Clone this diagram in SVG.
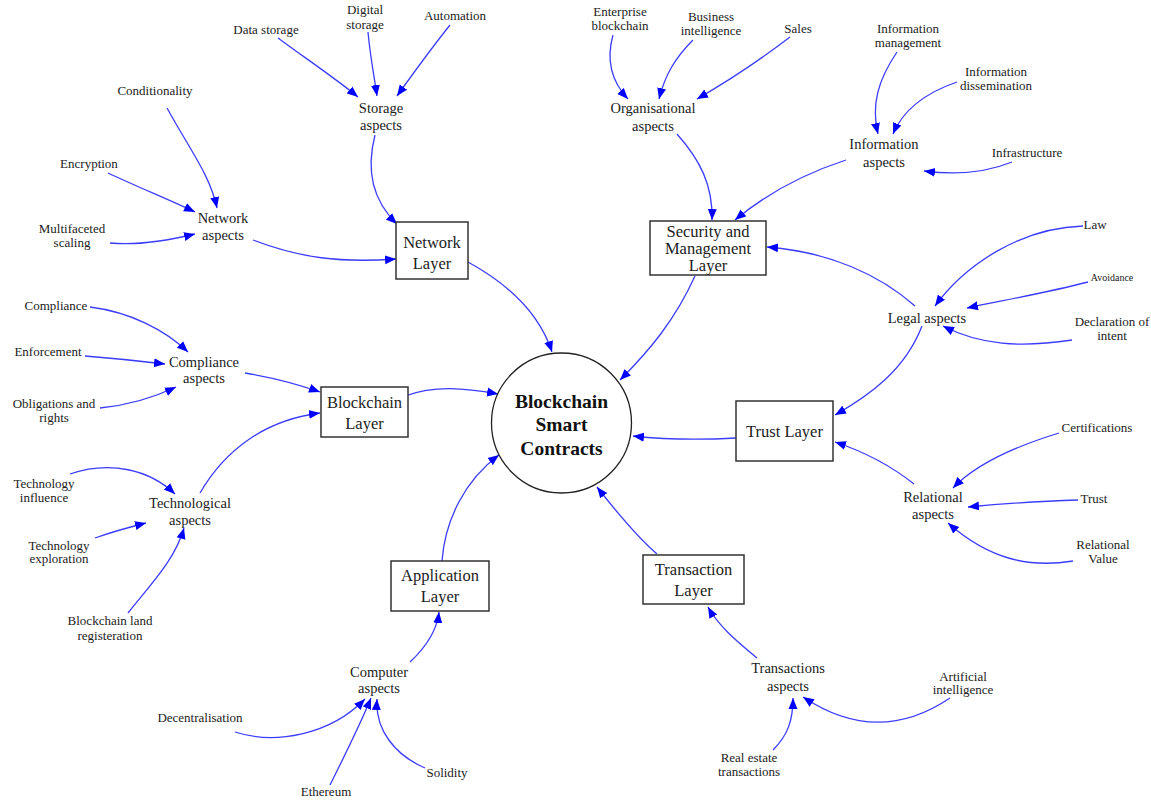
<svg xmlns="http://www.w3.org/2000/svg" width="1151" height="810" viewBox="0 0 1151 810">
<defs>
<marker id="ah" markerUnits="userSpaceOnUse" markerWidth="12" markerHeight="10" viewBox="0 0 12 10" refX="11" refY="5" orient="auto">
<path d="M0,0.5 L11,5 L0,9.5 z" fill="#0000ff"/>
</marker>
</defs>
<style>
text{fill:#222;text-anchor:middle}
.leaf{font-size:13px}
.asp{font-size:14.5px}
.lay{font-size:16.5px}
.ctr{font-size:19.5px;font-weight:bold;fill:#111}
.box{fill:#fff;stroke:#333;stroke-width:1.5}
#connectors path{fill:none;stroke:#3c3cff;stroke-width:1.3;marker-end:url(#ah)}
</style>
<rect width="1151" height="810" fill="#fff"/>
<g id="connectors">
<path d="M278,38 C305,58 335,78 358,97"/>
<path d="M368,32 C370,55 374,75 377,96"/>
<path d="M450,25 C430,50 412,75 397,96"/>
<path d="M375,135 C366,170 372,200 397,224"/>
<path d="M167,108 C190,150 210,175 217,208"/>
<path d="M108,173 C140,188 170,200 195,212"/>
<path d="M110,243 C140,246 170,240 195,234"/>
<path d="M253,240 C300,258 340,263 396,259"/>
<path d="M613,35 C606,60 612,82 628,99"/>
<path d="M693,40 C675,58 665,75 659,99"/>
<path d="M790,37 C760,60 730,80 697,99"/>
<path d="M677,134 C700,160 713,185 712,220"/>
<path d="M897,52 C878,80 871,105 878,134"/>
<path d="M957,82 C925,93 903,110 893,134"/>
<path d="M1012,162 C985,173 955,175 924,171"/>
<path d="M846,160 C800,175 765,195 735,220"/>
<path d="M1083,226 C1020,228 965,265 935,306"/>
<path d="M1088,282 C1050,292 1005,300 967,308"/>
<path d="M1072,340 C1020,348 980,345 943,326"/>
<path d="M915,306 C880,275 830,252 767,247"/>
<path d="M922,326 C905,370 870,395 835,415"/>
<path d="M736,438 C700,440 670,440 633,436"/>
<path d="M1059,433 C1010,448 975,465 953,488"/>
<path d="M1078,500 C1040,501 1000,504 968,507"/>
<path d="M1073,561 C1030,568 990,560 948,523"/>
<path d="M914,484 C890,465 865,452 835,442"/>
<path d="M90,307 C130,312 165,330 188,352"/>
<path d="M85,356 C110,358 140,361 165,364"/>
<path d="M100,408 C130,405 155,397 176,387"/>
<path d="M245,373 C275,378 300,385 320,392"/>
<path d="M70,474 C110,460 150,470 175,494"/>
<path d="M95,538 C112,532 130,527 146,523"/>
<path d="M128,613 C150,585 175,560 184,528"/>
<path d="M200,493 C225,450 265,420 320,413"/>
<path d="M405,396 C435,385 465,388 498,394"/>
<path d="M468,262 C510,285 540,315 552,352"/>
<path d="M695,276 C675,320 650,350 620,380"/>
<path d="M442,561 C445,520 465,480 499,455"/>
<path d="M657,554 C635,535 615,510 597,487"/>
<path d="M410,662 C425,648 437,630 439,612"/>
<path d="M235,732 C275,745 330,735 365,699"/>
<path d="M330,785 C345,755 360,725 371,698"/>
<path d="M425,768 C395,755 375,730 377,699"/>
<path d="M757,658 C735,640 718,625 708,607"/>
<path d="M773,750 C788,735 793,720 793,698"/>
<path d="M950,698 C910,725 860,735 803,697"/>
</g>
<g font-family="Liberation Serif, DejaVu Serif, serif">
<g id="center"><circle cx="561.5" cy="423" r="70" fill="#fff" stroke="#222" stroke-width="1.3"/>
<text class="ctr" x="561.5" y="408">Blockchain</text><text class="ctr" x="561.5" y="431">Smart</text><text class="ctr" x="561.5" y="455">Contracts</text></g>
<g id="network-layer"><rect class="box" x="396" y="222" width="72" height="57"/><text class="lay" x="432" y="248">Network</text><text class="lay" x="432" y="269">Layer</text></g>
<g id="security-layer"><rect class="box" x="650" y="221" width="116" height="54"/><text class="lay" x="708" y="237">Security and</text><text class="lay" x="708" y="254">Management</text><text class="lay" x="708" y="271">Layer</text></g>
<g id="blockchain-layer"><rect class="box" x="321" y="387" width="87" height="50"/><text class="lay" x="364.5" y="408">Blockchain</text><text class="lay" x="364.5" y="429">Layer</text></g>
<g id="trust-layer"><rect class="box" x="736" y="401" width="97" height="60"/><text class="lay" x="784.5" y="437">Trust Layer</text></g>
<g id="application-layer"><rect class="box" x="391" y="561" width="98" height="50"/><text class="lay" x="440" y="581">Application</text><text class="lay" x="440" y="602">Layer</text></g>
<g id="transaction-layer"><rect class="box" x="643" y="555" width="101" height="49"/><text class="lay" x="693.5" y="575">Transaction</text><text class="lay" x="693.5" y="596">Layer</text></g>
<g id="storage-aspects"><text class="asp" x="381" y="113">Storage</text><text class="asp" x="381" y="130">aspects</text></g>
<g id="network-aspects"><text class="asp" x="223" y="223">Network</text><text class="asp" x="223" y="240">aspects</text></g>
<g id="organisational-aspects"><text class="asp" x="653" y="113">Organisational</text><text class="asp" x="653" y="131">aspects</text></g>
<g id="information-aspects"><text class="asp" x="884" y="149">Information</text><text class="asp" x="884" y="167">aspects</text></g>
<g id="legal-aspects"><text class="asp" x="927" y="323">Legal aspects</text></g>
<g id="compliance-aspects"><text class="asp" x="204" y="367">Compliance</text><text class="asp" x="204" y="383">aspects</text></g>
<g id="technological-aspects"><text class="asp" x="190" y="508">Technological</text><text class="asp" x="190" y="525">aspects</text></g>
<g id="relational-aspects"><text class="asp" x="933" y="502">Relational</text><text class="asp" x="933" y="519">aspects</text></g>
<g id="computer-aspects"><text class="asp" x="379" y="677">Computer</text><text class="asp" x="379" y="693">aspects</text></g>
<g id="transactions-aspects"><text class="asp" x="788" y="673">Transactions</text><text class="asp" x="788" y="691">aspects</text></g>
<g id="data-storage"><text class="leaf" x="266" y="34">Data storage</text></g>
<g id="digital-storage"><text class="leaf" x="365" y="14">Digital</text><text class="leaf" x="365" y="29">storage</text></g>
<g id="automation"><text class="leaf" x="455" y="20">Automation</text></g>
<g id="conditionality"><text class="leaf" x="155" y="95">Conditionality</text></g>
<g id="encryption"><text class="leaf" x="89" y="168">Encryption</text></g>
<g id="multifaceted-scaling"><text class="leaf" x="72" y="233">Multifaceted</text><text class="leaf" x="72" y="247">scaling</text></g>
<g id="enterprise-blockchain"><text class="leaf" x="620" y="16">Enterprise</text><text class="leaf" x="620" y="30">blockchain</text></g>
<g id="business-intelligence"><text class="leaf" x="711" y="21">Business</text><text class="leaf" x="711" y="35">intelligence</text></g>
<g id="sales"><text class="leaf" x="798" y="33">Sales</text></g>
<g id="information-management"><text class="leaf" x="908" y="33">Information</text><text class="leaf" x="908" y="47">management</text></g>
<g id="information-dissemination"><text class="leaf" x="996" y="76">Information</text><text class="leaf" x="996" y="90">dissemination</text></g>
<g id="infrastructure"><text class="leaf" x="1027" y="157">Infrastructure</text></g>
<g id="law"><text class="leaf" x="1095" y="229">Law</text></g>
<g id="avoidance"><text class="leaf" x="1112" y="281" style="font-size:10px">Avoidance</text></g>
<g id="declaration-of-intent"><text class="leaf" x="1112" y="326">Declaration of</text><text class="leaf" x="1112" y="340">intent</text></g>
<g id="compliance"><text class="leaf" x="56" y="310">Compliance</text></g>
<g id="enforcement"><text class="leaf" x="48" y="356">Enforcement</text></g>
<g id="obligations-and-rights"><text class="leaf" x="54" y="408">Obligations and</text><text class="leaf" x="54" y="422">rights</text></g>
<g id="technology-influence"><text class="leaf" x="44" y="488">Technology</text><text class="leaf" x="44" y="502">influence</text></g>
<g id="technology-exploration"><text class="leaf" x="59" y="550">Technology</text><text class="leaf" x="59" y="563">exploration</text></g>
<g id="blockchain-land-registeration"><text class="leaf" x="110" y="625">Blockchain land</text><text class="leaf" x="110" y="640">registeration</text></g>
<g id="certifications"><text class="leaf" x="1097" y="432">Certifications</text></g>
<g id="trust"><text class="leaf" x="1094" y="503">Trust</text></g>
<g id="relational-value"><text class="leaf" x="1103" y="549">Relational</text><text class="leaf" x="1103" y="563">Value</text></g>
<g id="decentralisation"><text class="leaf" x="200" y="722">Decentralisation</text></g>
<g id="ethereum"><text class="leaf" x="326" y="796">Ethereum</text></g>
<g id="solidity"><text class="leaf" x="447" y="777">Solidity</text></g>
<g id="real-estate-transactions"><text class="leaf" x="749" y="762">Real estate</text><text class="leaf" x="749" y="776">transactions</text></g>
<g id="artificial-intelligence"><text class="leaf" x="963" y="681">Artificial</text><text class="leaf" x="963" y="694">intelligence</text></g>
</g>
</svg>
